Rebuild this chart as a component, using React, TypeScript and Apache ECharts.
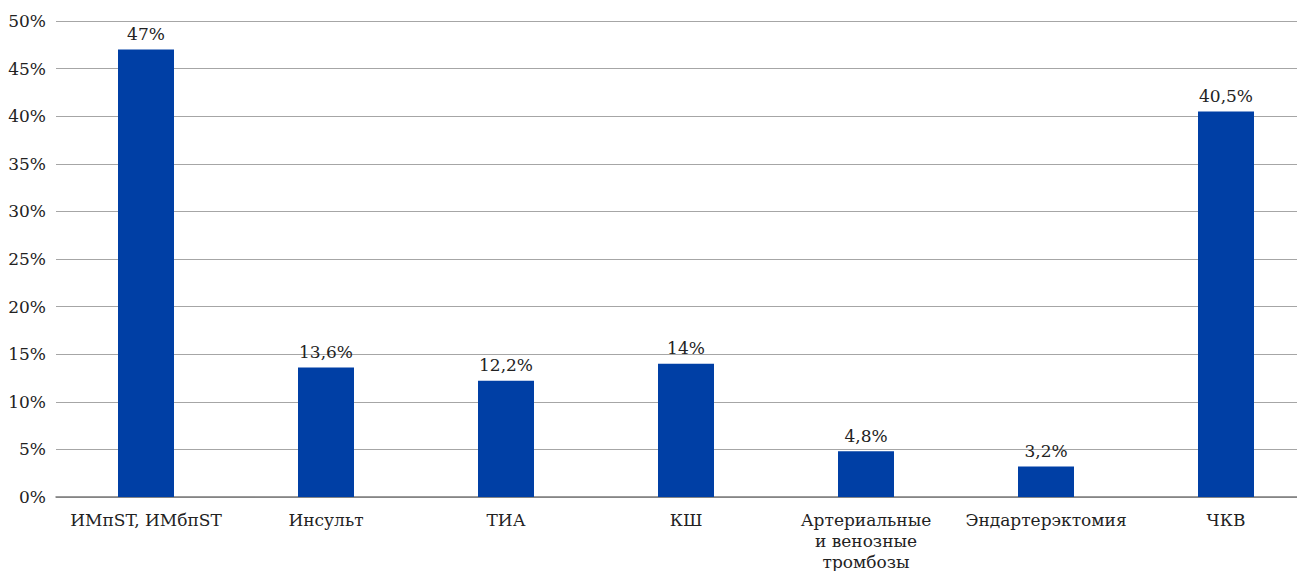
import React, { useEffect, useRef } from "react";
import * as echarts from "echarts";

const categories = [
  "ИМпST, ИМбпST",
  "Инсульт",
  "ТИА",
  "КШ",
  "Артериальные\nи венозные\nтромбозы",
  "Эндартерэктомия",
  "ЧКВ",
];
const values = [47, 13.6, 12.2, 14, 4.8, 3.2, 40.5];
const yMin = 0;
const yMax = 50;
const yStep = 5;

const fontFamily = "DejaVu Serif";
const fmtPct = (v: number) => String(v).replace(".", ",") + "%";

export default function App() {
  const ref = useRef<HTMLDivElement>(null);

  useEffect(() => {
    if (!ref.current) return;
    const chart = echarts.init(ref.current, null, { renderer: "svg" });
    chart.setOption({
      animation: false,
      backgroundColor: "#ffffff",
      grid: { left: 56, right: 0, top: 21, bottom: 82 },
      xAxis: {
        type: "category",
        data: categories,
        axisTick: { show: false },
        axisLine: { show: true, lineStyle: { color: "#7a7a7a", width: 1.5 } },
        axisLabel: {
          interval: 0,
          margin: 12,
          color: "#222222",
          fontFamily,
          fontSize: 17,
          lineHeight: 21,
        },
      },
      yAxis: {
        type: "value",
        min: yMin,
        max: yMax,
        interval: yStep,
        axisLine: { show: false },
        axisTick: { show: false },
        axisLabel: {
          margin: 10,
          color: "#222222",
          fontFamily,
          fontSize: 17,
          formatter: (v: number) => fmtPct(v),
        },
        splitLine: { lineStyle: { color: "#a6a6a6", width: 1 } },
      },
      series: [
        {
          type: "bar",
          data: values,
          barWidth: 56,
          itemStyle: { color: "#003fa5" },
          label: {
            show: true,
            position: "top",
            distance: 7,
            color: "#222222",
            fontFamily,
            fontSize: 17,
            formatter: (p: any) => fmtPct(p.value),
          },
        },
      ],
    });
    return () => chart.dispose();
  }, []);

  return (
    <div style={{ width: 1305, height: 579, margin: -8, overflow: "hidden", position: "relative" }}>
      <div ref={ref} style={{ width: 1316, height: 579 }} />
    </div>
  );
}
